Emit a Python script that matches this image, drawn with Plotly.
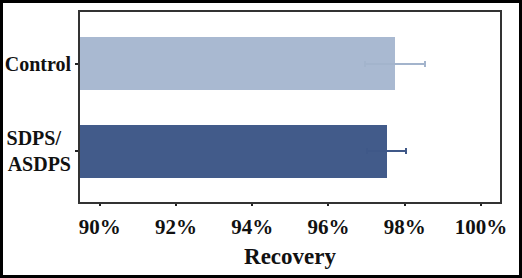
import plotly.graph_objects as go

categories = ["SDPS/&nbsp;&nbsp;<br>ASDPS", "Control"]
recovery = [97.53, 97.75]
errors = [0.51, 0.78]
bar_colors = ["#425b8a", "#a9b9d1"]
err_colors = ["#3f5888", "#a3b4cc"]
tick_vals = [90, 92, 94, 96, 98, 100]
tick_text = ["90%", "92%", "94%", "96%", "98%", "100%"]

fig = go.Figure()
for i in range(len(categories)):
    fig.add_trace(go.Bar(
        y=[categories[i]], x=[recovery[i]], orientation="h",
        marker=dict(color=bar_colors[i], line=dict(width=0)),
        width=0.61,
        error_x=dict(type="data", array=[errors[i]], color=err_colors[i],
                     thickness=2, width=3),
        showlegend=False,
    ))

font_family = "Liberation Serif, Times New Roman, serif"
fig.update_layout(
    width=522, height=278,
    margin=dict(l=80, r=22, t=12, b=76),
    paper_bgcolor="white", plot_bgcolor="white",
    font=dict(family=font_family, color="black"),
    xaxis=dict(
        range=[89.48, 100.5], tickvals=tick_vals, ticktext=tick_text,
        tickfont=dict(size=21, family=font_family, color="#111", weight="bold"),
        ticks="outside", ticklen=2, tickwidth=2, tickcolor="#222",
        ticklabelstandoff=3,
        showgrid=False, zeroline=False, automargin=False,
        showline=True, linecolor="#333", linewidth=2, mirror=True,
        title=dict(text="Recovery", font=dict(size=23, family=font_family, color="#111", weight="bold"), standoff=10),
    ),
    yaxis=dict(
        type="category", categoryorder="array", categoryarray=categories,
        range=[-0.58, 1.59], automargin=False,
        tickfont=dict(size=20, family=font_family, color="#111", weight="bold"),
        ticks="outside", ticklen=3, tickwidth=2, tickcolor="#222",
        showgrid=False, zeroline=False,
        showline=True, linecolor="#333", linewidth=2, mirror=True,
    ),
    bargap=0,
)

# outer frame around the whole image
W, H = 522, 278
l, r, t, b = 80, 22, 12, 76
pw, ph = W - l - r, H - t - b
fig.add_shape(type="rect", xref="paper", yref="paper",
              x0=(1.5 - l) / pw, x1=(W - 1.5 - l) / pw,
              y0=(H - b - (H - 1.5)) / ph, y1=(H - b - 1.5) / ph,
              line=dict(color="black", width=3), fillcolor="rgba(0,0,0,0)", layer="above")

fig.write_html("out.html")
